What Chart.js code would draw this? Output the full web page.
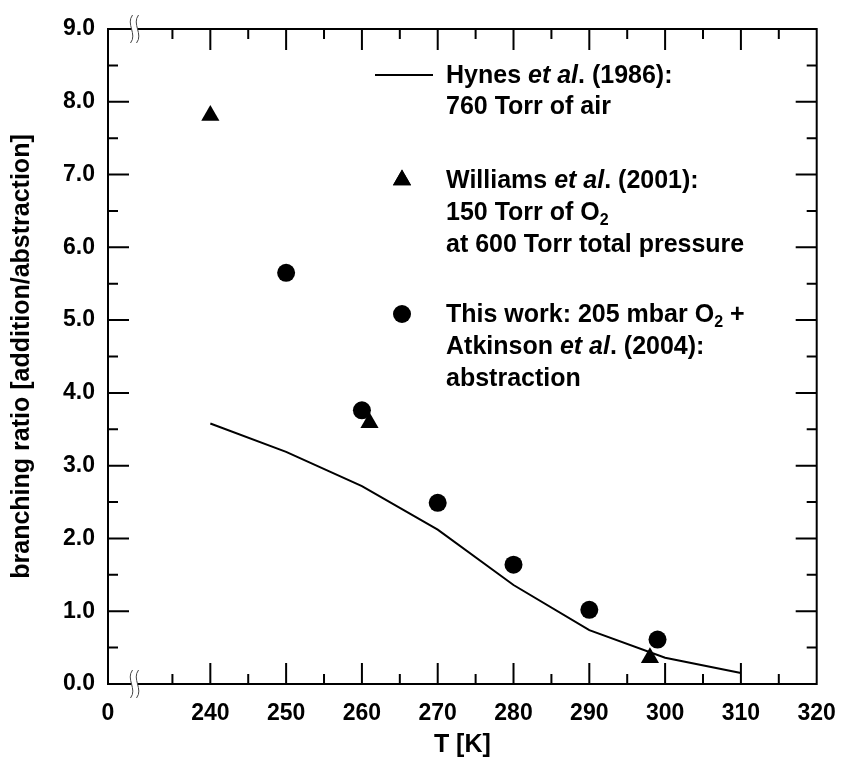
<!DOCTYPE html>
<html><head><meta charset="utf-8">
<script src="https://cdn.jsdelivr.net/npm/chart.js@4/dist/chart.umd.min.js"></script>
<style>html,body{margin:0;padding:0;background:#fff}#wrap{width:841px;height:762px;position:relative}</style>
</head><body><div id="wrap"><canvas id="c" width="841" height="762"></canvas></div>
<script>
// ---- data ----
const hynesT = [240, 250, 260, 270, 280, 290, 300, 310];
const hynesRatio = [3.58, 3.19, 2.72, 2.12, 1.36, 0.74, 0.36, 0.15];
const williamsT = [240, 261, 298];
const williamsRatio = [7.81, 3.59, 0.36];
const thisWorkT = [250, 260, 270, 280, 290, 299];
const thisWorkRatio = [5.65, 3.76, 2.49, 1.64, 1.02, 0.61];

// ---- axis ticks ----
const xOriginValue = 226.5;      // broken axis: left end is labelled "0"
const xOriginLabel = '0';
const xBreakValue = 230;
const xMajorTicks = [240, 250, 260, 270, 280, 290, 300, 310, 320];
const xMinorTicks = [235, 245, 255, 265, 275, 285, 295, 305, 315];
const yMajorTicks = [0, 1, 2, 3, 4, 5, 6, 7, 8, 9];
const yMinorTicks = [0.5, 1.5, 2.5, 3.5, 4.5, 5.5, 6.5, 7.5, 8.5];

const FONT = '"Liberation Sans", Arial, Helvetica, sans-serif';

function pts(xs, ys) { return xs.map((x, i) => ({ x: x, y: ys[i] })); }

const framePlugin = {
  id: 'frame',
  beforeDatasetsDraw(chart) {
    const ctx = chart.ctx, a = chart.chartArea;
    const xs = chart.scales.x, ys = chart.scales.y;
    ctx.save();
    ctx.strokeStyle = '#000';
    ctx.lineWidth = 2;
    ctx.strokeRect(a.left, a.top, a.right - a.left, a.bottom - a.top);
    const MAJ = 21, MIN = 10;
    ctx.beginPath();
    const tx = (v, len) => {
      const p = xs.getPixelForValue(v);
      ctx.moveTo(p, a.bottom); ctx.lineTo(p, a.bottom - len);
      ctx.moveTo(p, a.top); ctx.lineTo(p, a.top + len);
    };
    const ty = (v, len) => {
      const p = ys.getPixelForValue(v);
      ctx.moveTo(a.left, p); ctx.lineTo(a.left + len, p);
      ctx.moveTo(a.right, p); ctx.lineTo(a.right - len, p);
    };
    xMajorTicks.forEach(v => { if (v < xs.max) tx(v, MAJ); });
    xMinorTicks.forEach(v => tx(v, MIN));
    yMajorTicks.forEach(v => { if (v > ys.min && v < ys.max) ty(v, MAJ); });
    yMinorTicks.forEach(v => ty(v, MIN));
    ctx.stroke();
    // axis break marks
    const xb = xs.getPixelForValue(xBreakValue);
    [a.bottom, a.top].forEach(yy => {
      ctx.fillStyle = '#fff';
      ctx.fillRect(xb - 3, yy - 2, 6, 4);
      ctx.strokeStyle = '#444';
      ctx.lineWidth = 1;
      [-3, 3].forEach(off => {
        ctx.beginPath();
        ctx.moveTo(xb + off + 1, yy - 14);
        ctx.bezierCurveTo(xb + off - 6, yy - 5, xb + off + 6, yy + 5, xb + off - 1, yy + 14);
        ctx.stroke();
      });
    });
    ctx.restore();
  },
  afterDraw(chart) {
    const ctx = chart.ctx;
    ctx.save();
    ctx.fillStyle = '#000';
    ctx.textBaseline = 'middle';
    ctx.textAlign = 'left';
    const B = 'bold 25px ' + FONT, I = 'italic bold 25px ' + FONT, S = 'bold 16px ' + FONT;
    function rich(x, y, segs) {
      segs.forEach(s => {
        ctx.font = s[1] || B;
        const dy = s[2] || 0;
        ctx.fillText(s[0], x, y + dy);
        x += ctx.measureText(s[0]).width;
      });
    }
    const tx = 446;
    // legend: Hynes
    ctx.strokeStyle = '#000'; ctx.lineWidth = 2;
    ctx.beginPath(); ctx.moveTo(375, 75); ctx.lineTo(433, 75); ctx.stroke();
    rich(tx, 76, [['Hynes '], ['et al', I], ['. (1986):']]);
    rich(tx, 107, [['760 Torr of air']]);
    // Williams
    Chart.helpers.drawPoint(ctx, { pointStyle: 'triangle', radius: 10.5, rotation: 0, borderWidth: 0 }, 402, 180);
    ctx.fill();
    rich(tx, 181, [['Williams '], ['et al', I], ['. (2001):']]);
    rich(tx, 213, [['150 Torr of O'], ['2', S, 8]]);
    rich(tx, 245, [['at 600 Torr total pressure']]);
    // This work
    ctx.beginPath(); ctx.arc(402, 314, 9, 0, Math.PI * 2); ctx.fill();
    rich(tx, 315, [['This work: 205 mbar O'], ['2', S, 8], [' +']]);
    rich(tx, 347, [['Atkinson '], ['et al', I], ['. (2004):']]);
    rich(tx, 379, [['abstraction']]);
    ctx.restore();
  }
};

new Chart(document.getElementById('c'), {
  type: 'scatter',
  data: {
    datasets: [
      { label: 'Hynes et al. (1986): 760 Torr of air', data: pts(hynesT, hynesRatio), showLine: true,
        borderColor: '#000', borderWidth: 2, pointRadius: 0, fill: false, tension: 0 },
      { label: 'Williams et al. (2001)', data: pts(williamsT, williamsRatio), pointStyle: 'triangle',
        pointRadius: 10.5, backgroundColor: '#000', borderColor: '#000', borderWidth: 0 },
      { label: 'This work', data: pts(thisWorkT, thisWorkRatio), pointStyle: 'circle',
        pointRadius: 9, backgroundColor: '#000', borderColor: '#000', borderWidth: 0 }
    ]
  },
  options: {
    responsive: false, animation: false, devicePixelRatio: 1,
    layout: { padding: { top: 29, right: 24.3, left: 0, bottom: 0 } },
    plugins: { legend: { display: false }, tooltip: { enabled: false } },
    scales: {
      x: {
        type: 'linear', min: xOriginValue, max: 320,
        grid: { display: false, drawTicks: false }, border: { display: false },
        afterBuildTicks: s => { s.ticks = [xOriginValue].concat(xMajorTicks).map(v => ({ value: v })); },
        afterFit: s => { s.height = 78; s.paddingLeft = 0; s.paddingRight = 0; },
        ticks: { autoSkip: false, maxRotation: 0, padding: 16, color: '#000',
          font: { family: FONT, size: 23, weight: 'bold' },
          callback: v => v === xOriginValue ? xOriginLabel : String(v) },
        title: { display: true, text: 'T [K]', color: '#000', padding: { top: 0, bottom: 2 },
          font: { family: FONT, size: 25, weight: 'bold' } }
      },
      y: {
        type: 'linear', min: 0, max: 9,
        grid: { display: false, drawTicks: false }, border: { display: false },
        afterBuildTicks: s => { s.ticks = yMajorTicks.map(v => ({ value: v })); },
        afterFit: s => { s.width = 108; s.paddingTop = 0; s.paddingBottom = 0; },
        ticks: { padding: 13, color: '#000', font: { family: FONT, size: 23, weight: 'bold' },
          callback: v => Number(v).toFixed(1) },
        title: { display: true, text: 'branching ratio [addition/abstraction]', color: '#000',
          padding: { top: 7, bottom: 0 }, font: { family: FONT, size: 25, weight: 'bold' } }
      }
    }
  },
  plugins: [framePlugin]
});
</script></body></html>
